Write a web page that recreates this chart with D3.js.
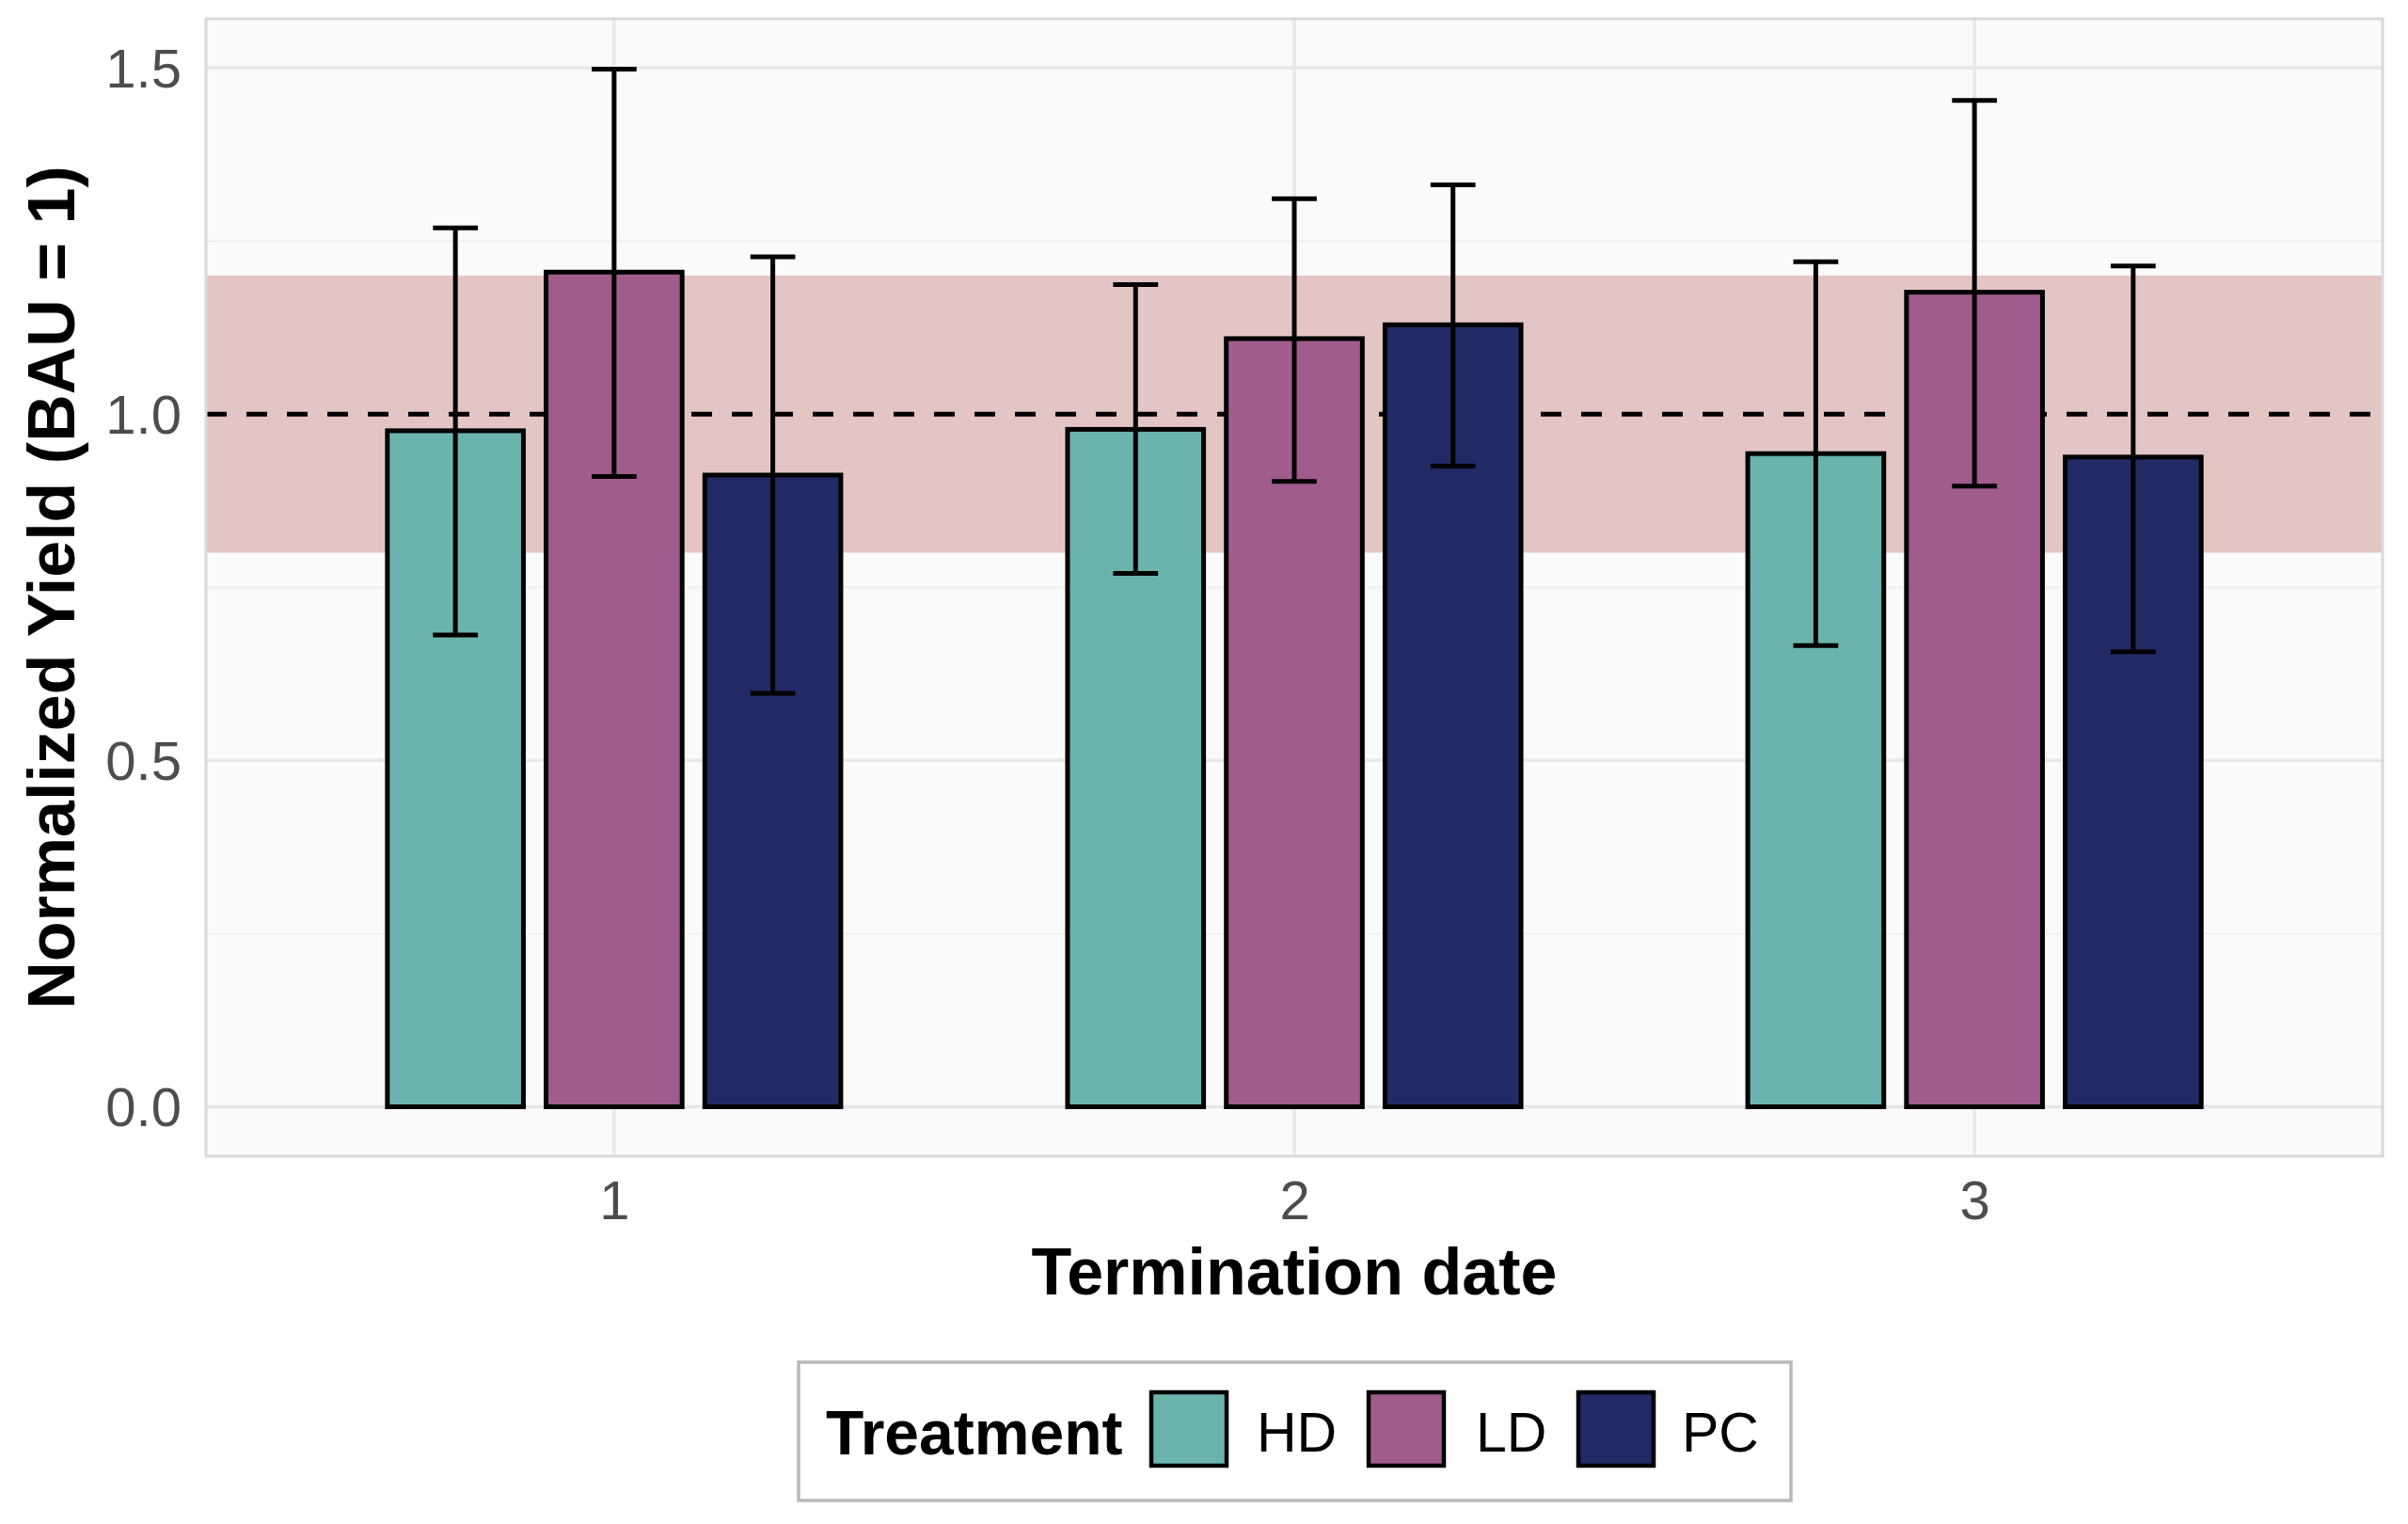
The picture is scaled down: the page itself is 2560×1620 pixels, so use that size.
<!DOCTYPE html>
<html>
<head>
<meta charset="utf-8">
<script src="https://cdn.jsdelivr.net/npm/d3@7"></script>
<style>
  html, body { margin: 0; padding: 0; background: #ffffff; }
  svg { display: block; }
</style>
</head>
<body>
<svg id="chart" width="2560" height="1620"></svg>
<script>
// ---------------- data ----------------
const dates = ["1", "2", "3"];
const treatments = ["HD", "LD", "PC"];
const colors = ["#6AB4AD", "#A05C8D", "#222A66"];

const hdMean  = [0.976, 0.978, 0.943];
const hdLower = [0.681, 0.770, 0.666];
const hdUpper = [1.269, 1.187, 1.220];

const ldMean  = [1.205, 1.109, 1.176];
const ldLower = [0.910, 0.903, 0.896];
const ldUpper = [1.498, 1.311, 1.453];

const pcMean  = [0.912, 1.129, 0.938];
const pcLower = [0.597, 0.925, 0.657];
const pcUpper = [1.227, 1.331, 1.214];

const yTicks = [0, 0.5, 1.0, 1.5];
const yMinorTicks = [0.25, 0.75, 1.25];
const bandRange = [0.8, 1.2];
const refLine = 1.0;

const xTitle = "Termination date";
const yTitle = "Normalized Yield (BAU = 1)";
const legendTitle = "Treatment";

// ---------------- build table ----------------
const means = [hdMean, ldMean, pcMean];
const lowers = [hdLower, ldLower, pcLower];
const uppers = [hdUpper, ldUpper, pcUpper];
const rows = [];
dates.forEach((d, i) => {
  treatments.forEach((t, j) => {
    rows.push({ date: i + 1, ti: j, mean: means[j][i], lo: lowers[j][i], hi: uppers[j][i] });
  });
});

// ---------------- layout ----------------
const panel = { left: 219, right: 2533, top: 20, bottom: 1229 };
const svg = d3.select("#chart");
const font = "'Liberation Sans', Arial, Helvetica, sans-serif";

const x = d3.scaleLinear().domain([0.4, 3.6]).range([panel.left, panel.right]);
const y = d3.scaleLinear().domain([-0.0713, 1.5707]).range([panel.bottom, panel.top]);

const dodge = 0.7 / 3;
const barW = 0.2;
const capW = 0.066;

// panel background
svg.append("rect")
  .attr("x", panel.left).attr("y", panel.top)
  .attr("width", panel.right - panel.left).attr("height", panel.bottom - panel.top)
  .attr("fill", "#fafafa");

// minor gridlines
svg.append("g").selectAll("line").data(yMinorTicks).join("line")
  .attr("x1", panel.left).attr("x2", panel.right)
  .attr("y1", d => y(d)).attr("y2", d => y(d))
  .attr("stroke", "#efefef").attr("stroke-width", 2);

// major gridlines
svg.append("g").selectAll("line").data(yTicks).join("line")
  .attr("x1", panel.left).attr("x2", panel.right)
  .attr("y1", d => y(d)).attr("y2", d => y(d))
  .attr("stroke", "#e8e8e8").attr("stroke-width", 3.5);
svg.append("g").selectAll("line").data(dates).join("line")
  .attr("x1", (d, i) => x(i + 1)).attr("x2", (d, i) => x(i + 1))
  .attr("y1", panel.top).attr("y2", panel.bottom)
  .attr("stroke", "#e8e8e8").attr("stroke-width", 3.5);

// band
svg.append("rect")
  .attr("x", panel.left).attr("width", panel.right - panel.left)
  .attr("y", y(bandRange[1])).attr("height", y(bandRange[0]) - y(bandRange[1]))
  .attr("fill", "#e3c6c3");

// reference dashed line
svg.append("line")
  .attr("x1", panel.left).attr("x2", panel.right)
  .attr("y1", y(refLine)).attr("y2", y(refLine))
  .attr("stroke", "#000").attr("stroke-width", 5)
  .attr("stroke-dasharray", "22,21");

// bars
svg.append("g").selectAll("rect").data(rows).join("rect")
  .attr("x", d => x(d.date + (d.ti - 1) * dodge - barW / 2))
  .attr("width", d => x(barW) - x(0))
  .attr("y", d => y(d.mean))
  .attr("height", d => y(0) - y(d.mean))
  .attr("fill", d => colors[d.ti])
  .attr("stroke", "#000").attr("stroke-width", 5);

// error bars
const eg = svg.append("g").attr("stroke", "#000").attr("stroke-width", 5);
eg.selectAll("line.v").data(rows).join("line").attr("class", "v")
  .attr("x1", d => x(d.date + (d.ti - 1) * dodge)).attr("x2", d => x(d.date + (d.ti - 1) * dodge))
  .attr("y1", d => y(d.lo)).attr("y2", d => y(d.hi));
eg.selectAll("line.t").data(rows).join("line").attr("class", "t")
  .attr("x1", d => x(d.date + (d.ti - 1) * dodge - capW / 2)).attr("x2", d => x(d.date + (d.ti - 1) * dodge + capW / 2))
  .attr("y1", d => y(d.hi)).attr("y2", d => y(d.hi));
eg.selectAll("line.b").data(rows).join("line").attr("class", "b")
  .attr("x1", d => x(d.date + (d.ti - 1) * dodge - capW / 2)).attr("x2", d => x(d.date + (d.ti - 1) * dodge + capW / 2))
  .attr("y1", d => y(d.lo)).attr("y2", d => y(d.lo));

// panel border
svg.append("rect")
  .attr("x", panel.left).attr("y", panel.top)
  .attr("width", panel.right - panel.left).attr("height", panel.bottom - panel.top)
  .attr("fill", "none").attr("stroke", "#d9d9d9").attr("stroke-width", 3);

// y axis
const yAxis = svg.append("g")
  .attr("transform", `translate(${panel.left - 26},0)`)
  .call(d3.axisLeft(y).tickValues(yTicks).tickFormat(d3.format(".1f")).tickSize(0).tickPadding(0));
yAxis.select(".domain").remove();
yAxis.selectAll("text")
  .attr("font-family", font).attr("font-size", 58).attr("fill", "#4d4d4d")
  .attr("dy", "0.35em");

// x axis
const xAxis = svg.append("g")
  .attr("transform", `translate(0,${panel.bottom})`)
  .call(d3.axisBottom(x).tickValues([1, 2, 3]).tickFormat(d => dates[d - 1]).tickSize(0).tickPadding(0));
xAxis.select(".domain").remove();
xAxis.selectAll("text")
  .attr("font-family", font).attr("font-size", 58).attr("fill", "#4d4d4d")
  .attr("y", 67).attr("dy", 0);

// axis titles
svg.append("text")
  .attr("x", (panel.left + panel.right) / 2).attr("y", 1376)
  .attr("text-anchor", "middle")
  .attr("font-family", font).attr("font-weight", "bold").attr("font-size", 70)
  .attr("fill", "#000").text(xTitle);

svg.append("text")
  .attr("transform", `translate(79,${(panel.top + panel.bottom) / 2}) rotate(-90)`)
  .attr("text-anchor", "middle")
  .attr("font-family", font).attr("font-weight", "bold").attr("font-size", 70)
  .attr("fill", "#000").text(yTitle);

// legend
const lg = svg.append("g");
lg.append("rect")
  .attr("x", 849).attr("y", 1448).attr("width", 1055).attr("height", 147)
  .attr("fill", "#fff").attr("stroke", "#b8b8b8").attr("stroke-width", 3.5);
lg.append("text")
  .attr("x", 878).attr("y", 1546)
  .attr("font-family", font).attr("font-weight", "bold").attr("font-size", 66)
  .attr("fill", "#000").text(legendTitle);
const keyX = [1224, 1455, 1678];
const labelX = [1336, 1569, 1788];
treatments.forEach((t, j) => {
  lg.append("rect")
    .attr("x", keyX[j]).attr("y", 1480).attr("width", 80).attr("height", 78)
    .attr("fill", colors[j]).attr("stroke", "#000").attr("stroke-width", 4.5);
  lg.append("text")
    .attr("x", labelX[j]).attr("y", 1543)
    .attr("font-family", font).attr("font-size", 59).attr("fill", "#000").text(t);
});
</script>
</body>
</html>
